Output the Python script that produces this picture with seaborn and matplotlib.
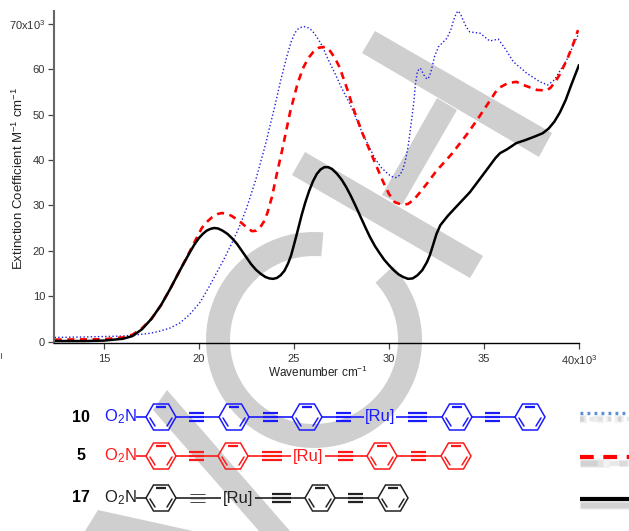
import pandas as pd
import matplotlib
matplotlib.use("Agg")
import matplotlib.pyplot as plt
from matplotlib.patches import Polygon, Wedge
import seaborn as sns

# x in 10^3 cm-1, y in 10^3 M-1 cm-1
wn_blue = [12.4, 14, 15, 16, 17, 17.4, 17.95, 18.5, 19, 19.5, 20.05, 20.5, 20.95, 21.3, 21.7, 22.1, 22.5, 23,
           23.5, 24, 24.3, 24.63, 24.85, 25.05, 25.25, 25.5, 25.75, 25.95, 26.2, 26.5, 26.8, 27.15, 27.5, 27.95,
           28.6, 29.25, 29.6, 29.9, 30.1, 30.35, 30.55, 30.7, 30.85, 31, 31.15, 31.3, 31.4, 31.5, 31.65, 31.85,
           32, 32.1, 32.2, 32.4, 32.6, 33.05, 33.25, 33.4, 33.55, 33.65, 33.8, 33.9, 34.05, 34.25, 34.8, 35.3,
           35.75, 36.1, 36.55, 37.25, 37.95, 38.35, 38.7, 39.35, 39.95]
ext_blue = [0.9, 1.0, 1.1, 1.2, 1.6, 1.8, 2.3, 3.0, 4.1, 5.9, 8.6, 11.8, 15.3, 18.0, 21.4, 25.0, 29.3, 35.8,
            43.4, 52.0, 57.5, 62.9, 66.0, 68.0, 69.0, 69.4, 69.1, 68.5, 67.1, 65.0, 62.1, 59.1, 55.9, 52.3,
            45.9, 40.4, 38.3, 37.1, 36.4, 36.1, 36.6, 37.6, 39.6, 42.8, 47.5, 52.5, 57.0, 59.6, 60.2, 58.6,
            57.8, 58.2, 59.3, 62.8, 64.9, 66.8, 68.6, 70.8, 72.4, 72.8, 71.8, 70.8, 69.4, 68.2, 67.9, 66.2,
            66.6, 64.6, 61.6, 59.1, 57.2, 56.5, 57.6, 62.0, 67.5]

wn_red = [12.4, 15, 16, 16.5, 17, 17.5, 18, 18.5, 19, 19.5, 19.8, 20.15, 20.4, 20.7, 21, 21.2, 21.5, 21.7, 22,
          22.3, 22.6, 22.8, 23, 23.2, 23.4, 23.6, 23.85, 24.1, 24.37, 24.8, 25.2, 25.5, 25.75, 26, 26.3, 26.63,
          26.9, 27.16, 27.4, 27.6, 27.85, 28.1, 28.6, 29.2, 29.7, 30, 30.3, 30.7, 31, 31.3, 31.6, 32, 32.5, 33.3,
          34.15, 34.7, 35.4, 35.6, 35.85, 36.25, 36.7, 37.2, 37.8, 38.3, 38.5, 38.75, 39, 39.4, 39.7, 39.95]
ext_red = [0.4, 0.5, 0.9, 1.5, 2.9, 5.0, 8.0, 11.7, 15.7, 19.7, 22.2, 25.0, 26.3, 27.4, 28.1, 28.3, 28.1, 27.7, 26.9,
           25.9, 24.8, 24.3, 24.4, 25.0, 26.3, 28.3, 32.0, 37.0, 42.0, 50.6, 57.0, 60.4, 62.4, 63.7, 64.7, 64.9,
           64.0, 62.4, 60.4, 58.0, 55.0, 51.6, 45.9, 40.0, 35.1, 32.5, 30.7, 30.1, 30.3, 31.2, 32.7, 34.8, 37.6, 41.3,
           45.9, 49.2, 53.6, 54.9, 56.0, 56.9, 57.2, 56.3, 55.4, 55.3, 55.9, 57.2, 58.9, 62.4, 65.6, 68.6]

wn_black = [12.4, 14, 15, 16, 16.5, 17, 17.5, 18, 18.5, 19, 19.5, 19.75, 20, 20.2, 20.4, 20.6, 20.8, 21, 21.25,
            21.5, 21.75, 22, 22.25, 22.5, 22.75, 23, 23.25, 23.5, 23.7, 23.9, 24.1, 24.3, 24.5, 24.7, 24.85, 25,
            25.2, 25.4, 25.6, 25.8, 26, 26.2, 26.4, 26.6, 26.8, 27, 27.25, 27.5, 27.75, 28, 28.25, 28.5, 28.75,
            29, 29.25, 29.5, 29.75, 30, 30.25, 30.5, 30.75, 31, 31.25, 31.5, 31.75, 32, 32.15, 32.3, 32.5, 32.7,
            32.85, 33.1, 33.5, 34.26, 34.8, 35.3, 35.6, 35.85, 36.2, 36.7, 37.2, 37.7, 38.1, 38.4, 38.7, 39, 39.3,
            39.6, 40]
ext_black = [0.1, 0.1, 0.2, 0.6, 1.2, 2.7, 5.0, 8.0, 11.7, 15.7, 19.5, 21.3, 22.8, 23.7, 24.4, 24.8, 25.0, 24.9, 24.4,
             23.7, 22.7, 21.5, 20.0, 18.5, 17.0, 15.8, 14.9, 14.2, 13.9, 13.8, 14.0, 14.6, 15.6, 17.3, 19.0, 21.3,
             24.5, 27.8, 30.7, 33.2, 35.3, 36.9, 37.9, 38.4, 38.4, 38.0, 37.0, 35.7, 34.0, 32.0, 29.8, 27.5, 25.2,
             23.0, 21.1, 19.5, 18.0, 16.8, 15.7, 14.8, 14.2, 13.8, 13.9, 14.6, 15.7, 17.5, 19.0, 21.0, 23.7, 25.6,
             26.4, 27.7, 29.5, 32.9, 35.9, 38.7, 40.4, 41.5, 42.3, 43.7, 44.4, 45.2, 45.9, 46.9, 48.4, 50.5, 53.2,
             56.6, 60.9]

x_ticks = [15, 20, 25, 30, 35, 40]
x_labels = ["15", "20", "25", "30", "35", "40x10$^{3}$"]
y_ticks = [0, 10, 20, 30, 40, 50, 60, 70]
y_labels = ["0", "10", "20", "30", "40", "50", "60", "70x10$^{3}$"]

W, H = 629, 531
GREY = "#cfcfcf"
BLUE = "#1a1aff"
RED = "#ff1a1a"

sns.set_theme(style="ticks")
plt.rcParams["font.family"] = ["Liberation Sans", "DejaVu Sans"]
plt.rcParams["mathtext.fontset"] = "custom"
plt.rcParams["mathtext.rm"] = "Liberation Sans"
plt.rcParams["mathtext.default"] = "rm"

fig = plt.figure(figsize=(W / 100, H / 100), dpi=100)

# pixel canvases: one under the chart for the watermark, one over it for the structures
bg = fig.add_axes([0, 0, 1, 1], zorder=0)
bg.set_xlim(0, W)
bg.set_ylim(H, 0)
bg.axis("off")

ax = fig.add_axes([54 / W, 1 - 342.5 / H, (579 - 54) / W, (342.5 - 11) / H], zorder=1)
ax.patch.set_alpha(0)

top = fig.add_axes([0, 0, 1, 1], zorder=2)
top.set_xlim(0, W)
top.set_ylim(H, 0)
top.axis("off")
top.patch.set_alpha(0)

# watermark
for pts in [[(375, 31), (362, 53), (539, 157), (552, 133)],
            [(437, 98), (457, 110), (402, 205), (382, 195)],
            [(305, 152), (292, 175), (470, 278), (483, 256)],
            [(167, 390), (153, 410), (259, 531), (290, 531)],
            [(98, 510), (85, 531), (193, 531)]]:
    bg.add_patch(Polygon(pts, closed=True, fc=GREY, ec="none"))
# y is flipped on this canvas, so the angles run clockwise on screen
bg.add_patch(Wedge((314, 340), 108, -43, 275, width=24, fc=GREY, ec="none"))

# spectra
df_blue = pd.DataFrame({"wn": wn_blue, "ext": ext_blue})
df_red = pd.DataFrame({"wn": wn_red, "ext": ext_red})
df_black = pd.DataFrame({"wn": wn_black, "ext": ext_black})
sns.lineplot(data=df_blue, x="wn", y="ext", ax=ax, color="#1f1fe0", lw=1.0,
             linestyle=(0, (1, 1.6)), estimator=None, sort=False)
sns.lineplot(data=df_red, x="wn", y="ext", ax=ax, color="#ff0000", lw=1.9,
             linestyle=(0, (2.7, 2.1)), estimator=None, sort=False)
sns.lineplot(data=df_black, x="wn", y="ext", ax=ax, color="black", lw=1.8,
             estimator=None, sort=False, solid_joinstyle="round")

ax.set_xlim(12.37, 40)
ax.set_ylim(-0.22, 72.8)
ax.set_xticks(x_ticks, x_labels)
ax.set_yticks(y_ticks, y_labels)
ax.tick_params(axis="both", labelsize=8, length=4, width=0.9, pad=2.5, color="#444444", labelcolor="#333333")
ax.tick_params(axis="x", pad=4)
sns.despine(ax=ax)
ax.spines["left"].set_color("#666666")
ax.spines["left"].set_linewidth(1.5)
ax.spines["bottom"].set_color("black")
ax.spines["bottom"].set_linewidth(1.0)
ax.set_xlabel("")
ax.set_ylabel("")
fig.text(318 / W, 1 - 372 / H, "Wavenumber cm$^{-1}$", fontsize=8.5, color="#222222", ha="center", va="center")
fig.text(18 / W, 1 - 178 / H, "Extinction Coefficient M$^{-1}$ cm$^{-1}$", fontsize=9.5, color="#222222",
         rotation=90, ha="center", va="center")


def bond(x0, x1, y, c, lw=1.2):
    top.plot([x0, x1], [y, y], color=c, lw=lw, solid_capstyle="butt")


def triple(x0, x1, y, c, thin=False):
    outer = 0.7 if thin else 1.6
    bond(x0, x1, y - 3.6, c, outer)
    bond(x0, x1, y, c, 1.0 if thin else 1.6)
    bond(x0, x1, y + 3.6, c, outer)


def ring(cx, y, c):
    r, h = 15, 13
    pts = [(cx - r, y), (cx - r / 2, y - h), (cx + r / 2, y - h), (cx + r, y), (cx + r / 2, y + h), (cx - r / 2, y + h)]
    top.add_patch(Polygon(pts, closed=True, fc="none", ec=c, lw=1.1))
    bond(cx - 5, cx + 5, y - 10, c, 1.6)
    top.plot([cx - 11, cx - 6], [y + 1, y + 9], color=c, lw=1.1)
    top.plot([cx + 11, cx + 6], [y + 1, y + 9], color=c, lw=1.1)


def molecule(label, y, c, rings, triples, ru, links, thin=None):
    top.text(81, y, label, fontsize=11.5, fontweight="bold", color="black", ha="center", va="center")
    top.text(104, y, "O$_2$N", fontsize=12, color=c, ha="left", va="center")
    for x0, x1 in links:
        bond(x0, x1, y, c)
    for cx in rings:
        ring(cx, y, c)
    for x0, x1 in triples:
        triple(x0, x1, y, c)
    if thin:
        triple(thin[0], thin[1], y, "#444444", thin=True)
    top.text(ru, y, "[Ru]", fontsize=12, color=c, ha="center", va="center")


molecule("10", 417, BLUE, [161, 234, 307, 457, 530], [(189, 204), (263, 278), (336, 351), (408, 427), (485, 500)], 380,
         [(136, 146), (176, 219), (249, 292), (322, 364), (396, 442), (472, 515)])
molecule("5", 456, RED, [161, 233, 382, 456], [(189, 204), (262, 282), (338, 353), (411, 426)], 308,
         [(136, 146), (176, 218), (248, 291), (325, 367), (397, 441)])
molecule("17", 498, "#222222", [161, 320, 393], [(272, 291), (348, 363)], 238,
         [(136, 146), (176, 221), (255, 305), (335, 378)], thin=(190, 205))

# legend keys, cut off by the right edge, with their soft shadows
for y, c, lw, ls in [(413, "#5b8fd6", 2.4, (0, (0.85, 1.25))),
                     (457, "#ff0000", 3.0, (0, (3.3, 2.3))),
                     (499, "black", 3.0, "-")]:
    for extra, alpha in [(3.5, 0.10), (2.0, 0.14), (0.8, 0.18)]:
        top.plot([580, 632], [y + 6, y + 6], color="#888888", lw=lw + extra, alpha=alpha, linestyle=ls,
                 solid_capstyle="butt", dash_capstyle="butt")
    top.plot([580, 632], [y, y], color=c, lw=lw, linestyle=ls, solid_capstyle="butt", dash_capstyle="butt")

top.plot([1, 1], [353, 358], color="#666666", lw=0.8)

fig.savefig("out.png", dpi=100)
